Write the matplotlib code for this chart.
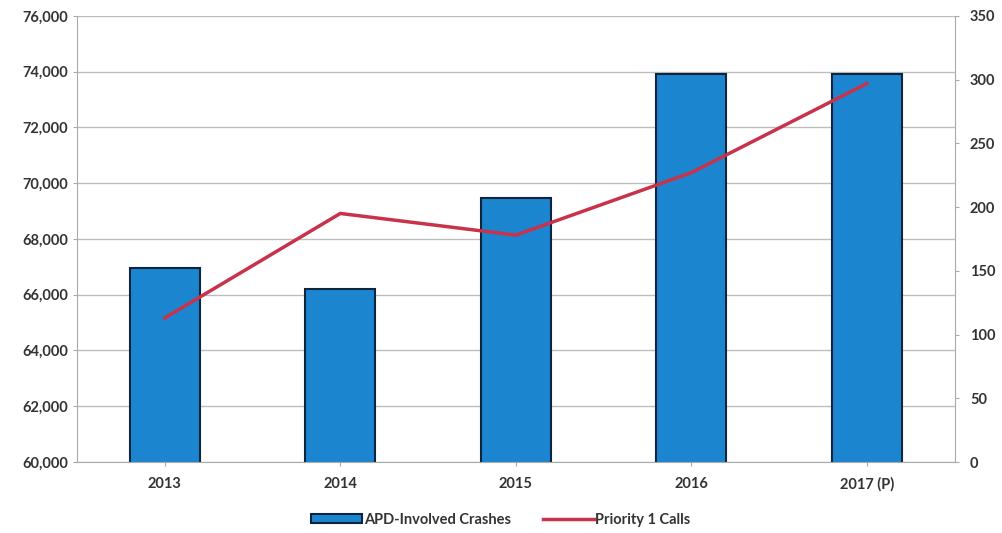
import matplotlib
matplotlib.use("Agg")
import matplotlib.pyplot as plt
from matplotlib.ticker import FuncFormatter

years = ["2013", "2014", "2015", "2016", "2017 (P)"]
crashes = [66950, 66200, 69480, 73900, 73900]
priority_calls = [113, 195, 178, 227, 297]

plt.rcParams['font.family'] = ['Lato', 'DejaVu Sans']
txt = '#333333'

fig = plt.figure(figsize=(10.02, 5.33), dpi=100)
ax = fig.add_axes([0.0768, 0.1332, 0.876, 0.837])
x = list(range(len(years)))
bars = ax.bar(x, crashes, width=0.4, color='#1B85CF', edgecolor='#0B2540',
              linewidth=1.5, label='APD-Involved Crashes', zorder=2)
ax.set_ylim(60000, 76000)
ax.set_yticks(range(60000, 76001, 2000))
ax.yaxis.set_major_formatter(FuncFormatter(lambda v, p: f"{int(v):,}"))
ax.set_xlim(-0.5, len(years) - 0.5)
ax.set_xticks(x)
ax.set_xticklabels(years)
ax.grid(axis='y', color='#BDBDBD', linewidth=1, zorder=0)
ax.set_axisbelow(True)
for s in ['top', 'right']:
    ax.spines[s].set_visible(False)
ax.spines['left'].set_color('#AAAAAA')
ax.spines['bottom'].set_color('#AAAAAA')
ax.tick_params(axis='both', colors='#AAAAAA', labelcolor=txt, labelsize=10.5, length=3)
ax.tick_params(axis='x', pad=8)
for lab in ax.get_xticklabels() + ax.get_yticklabels():
    lab.set_fontweight('bold')

ax2 = ax.twinx()
line, = ax2.plot(x, priority_calls, color='#C8324A', linewidth=2.5, label='Priority 1 Calls', zorder=3)
ax2.set_ylim(0, 350)
ax2.set_yticks(range(0, 351, 50))
for s in ['top', 'left', 'bottom']:
    ax2.spines[s].set_visible(False)
ax2.spines['right'].set_color('#AAAAAA')
ax2.tick_params(axis='y', colors='#AAAAAA', labelcolor=txt, labelsize=10.5, length=3, pad=8)
for lab in ax2.get_yticklabels():
    lab.set_fontweight('bold')

leg = fig.legend([bars, line], ['APD-Involved Crashes', 'Priority 1 Calls'],
                 loc='center', bbox_to_anchor=(0.5, 0.025), ncol=2, frameon=False,
                 fontsize=10.5, handlelength=3.5, handleheight=0.5, handletextpad=0.1,
                 columnspacing=2.2)
for t in leg.get_texts():
    t.set_color(txt)
    t.set_fontweight('bold')

fig.savefig('out.png', dpi=100)
